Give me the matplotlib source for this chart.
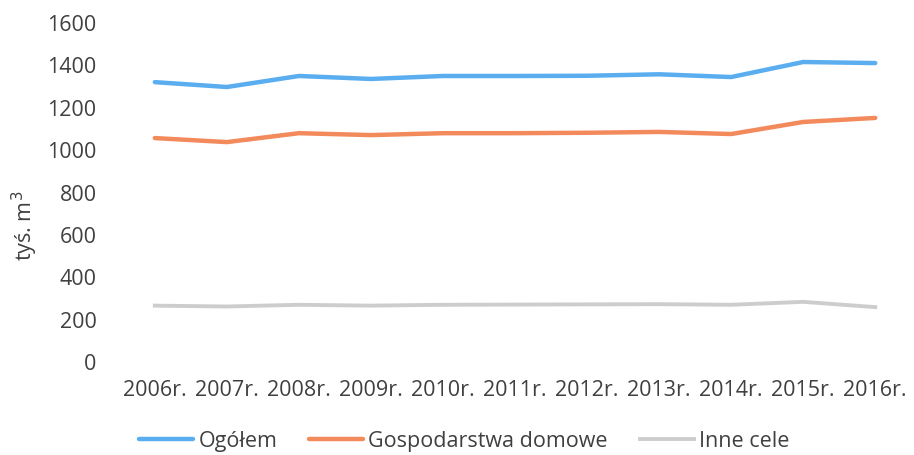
import matplotlib.pyplot as plt

plt.rcParams['font.family'] = ['Open Sans', 'DejaVu Sans']

years = ["2006r.", "2007r.", "2008r.", "2009r.", "2010r.", "2011r.",
         "2012r.", "2013r.", "2014r.", "2015r.", "2016r."]
ogolem = [1321, 1298, 1350, 1336, 1350, 1350, 1351, 1358, 1345, 1416, 1411]
gospodarstwa = [1057, 1038, 1080, 1071, 1080, 1080, 1082, 1086, 1076, 1133, 1152]
inne = [266, 262, 270, 266, 270, 271, 272, 273, 270, 284, 259]

fig = plt.figure(figsize=(9.14, 4.55), dpi=100)
ax = fig.add_axes([0.130, 0.2044, 0.867, 0.745])

x = range(len(years))
ax.plot(x, ogolem, color='#5aaef0', lw=3.2, label='Ogółem', solid_capstyle='round')
ax.plot(x, gospodarstwa, color='#f28a5c', lw=3.2, label='Gospodarstwa domowe', solid_capstyle='round')
ax.plot(x, inne, color='#c8c8c8', lw=2.8, label='Inne cele', alpha=0.9)

ax.set_xlim(-0.5, len(years) - 0.5)
ax.set_ylim(0, 1600)
ax.set_yticks(range(0, 1601, 200))
ax.set_xticks(list(x))
ax.set_xticklabels(years)
ax.tick_params(axis='both', length=0, labelsize=15.5, colors='#404040')
ax.tick_params(axis='x', pad=13)
ax.tick_params(axis='y', pad=16)
for s in ax.spines.values():
    s.set_visible(False)

# y label placed by hand, it sits a bit below the plot centre
fig.text(25 / 914, 1 - 226 / 455, 'tyś. m$^3$', rotation=90, fontsize=15.5,
         color='#404040', ha='center', va='center')

fig.legend(loc='center', bbox_to_anchor=(0.508, 0.03), ncol=3, frameon=False,
           fontsize=15.5, handlelength=2.5, handletextpad=0.23, columnspacing=1.5,
           labelcolor='#404040')

fig.savefig('out.png', dpi=100)
